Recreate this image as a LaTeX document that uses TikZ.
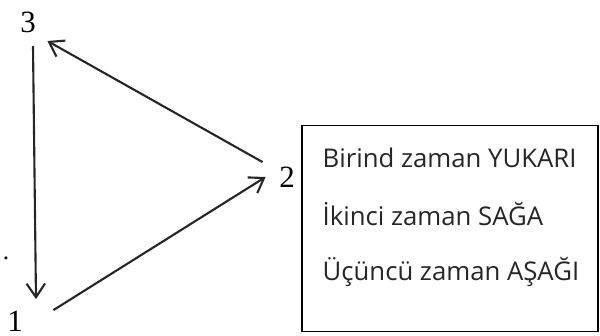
\documentclass[tikz,border=0pt]{standalone}
\usepackage{fontspec}
\setmainfont{Liberation Serif}
\newfontfamily\boxfont{Open Sans}
\usetikzlibrary{arrows.meta,positioning,calc}

\begin{document}
\begin{tikzpicture}[x=0.025cm, y=-0.025cm,
    num/.style={font=\fontsize{22}{22}\selectfont, inner sep=1pt},
    arr/.style={-{Straight Barb[length=3.4mm, width=4.6mm]}, line width=1.5pt, draw=black!85},
    legend/.style={draw, line width=0.8pt, minimum width=7.4cm, minimum height=5.17cm, inner sep=0pt},
    item/.style={anchor=west, inner sep=0pt, font=\boxfont\fontsize{18.3}{18.3}\selectfont, text=black!85}
  ]
    \useasboundingbox (0,0) rectangle (600,336);
    \node[num] (n3) at (28,22) {3};
    \node[num] (n2) at (287,177) {2};
    \node[num] (n1) at (15,321) {1};
    \node[inner sep=0pt, font=\fontsize{18}{18}\selectfont] (dot) at (6,258) {.};
    \draw[arr] ($(n3.south)+(5,12)$) -- ($(n1.north)+(21,-10)$);
    \draw[arr] ($(n1.north east)+(29,1)$) -- ($(n2.west)+(-12,0)$);
    \draw[arr] ($(n2.north west)+(-15,-3)$) -- ($(n3.east)+(10,19)$);
    \node[legend] (legend) at (450,228.5) {};
    \node[item] (l1) at ($(legend.north west)+(21,33)$) {Birind zaman YUKARI};
    \node[item] (l2) at ($(legend.north west)+(21,90)$) {İkinci zaman SAĞA};
    \node[item] (l3) at ($(legend.north west)+(21,147)$) {Üçüncü zaman AŞAĞI};
  \end{tikzpicture}
\end{document}
